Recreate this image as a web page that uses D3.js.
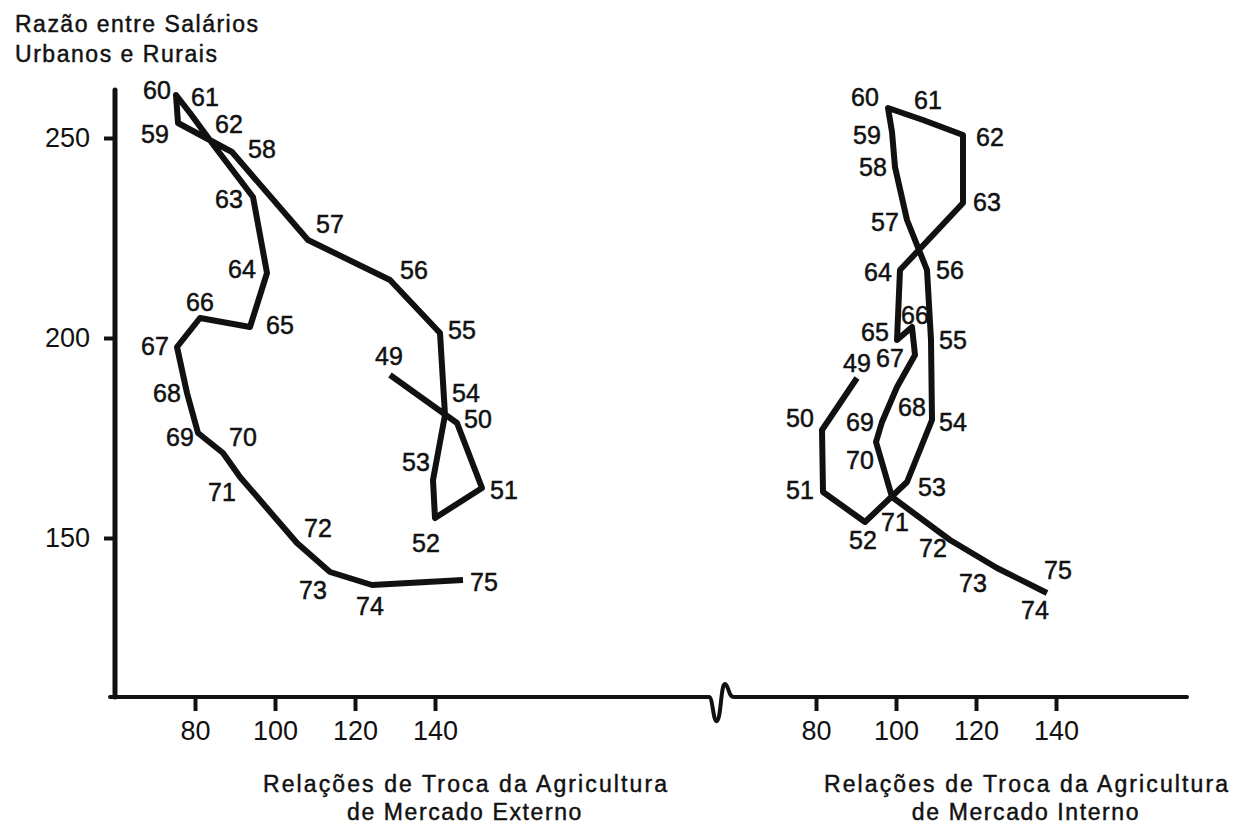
<!DOCTYPE html>
<meta charset="utf-8">
<html>
<head>
    <script type="text/javascript" src="https://d3js.org/d3.v7.min.js"></script>
    <style>
        body { margin: 0; background: #fff; }
        text { font-family: "Liberation Sans", Arial, sans-serif; fill: #111; }
        .year { font-size: 25px; stroke: #111; stroke-width: 0.5px; }
        .tick text { font-size: 27px; }
        .title { font-size: 23px; stroke: #111; stroke-width: 0.45px; }
    </style>
    <title>Razão entre Salários Urbanos e Rurais</title>
</head>
<body>
<svg id="chart" width="1234" height="825"></svg>
<script>
    // years (both panels use the same ones)
    var years = [49, 50, 51, 52, 53, 54, 55, 56, 57, 58, 59, 60, 61, 62,
                 63, 64, 65, 66, 67, 68, 69, 70, 71, 72, 73, 74, 75];

    // terms of trade, export agriculture (left panel)
    var extTrade = [128.75, 145.5, 151.75, 140, 139.5, 142.5, 141.25, 128.75, 108.25, 89.25,
                    75.75, 75.25, 78.75, 85, 94.5, 98, 93.75, 81.25, 75.5, 78,
                    80.75, 87, 91.25, 105.5, 113.75, 124.25, 147];
    var extWage = [190.75, 178.75, 162.5, 155, 164.5, 180.75, 201.25, 214.5, 224.5, 246.5,
                   253.75, 260.75, 256.25, 247.75, 235.25, 216.25, 202.75, 205, 197.75, 186.25,
                   176.25, 171.25, 165.25, 148.75, 141.5, 138.25, 139.5];

    // terms of trade, domestic agriculture (right panel)
    var intTrade = [90.25, 81.5, 81.75, 92.25, 102.75, 109, 108.75, 107.75, 102.75, 99.75,
                    99, 98, 106.75, 116.75, 116.75, 101, 100.25, 104, 104.75, 100.25,
                    96.5, 95, 99, 113.5, 125.25, 136.75, 137.75];
    var intWage = [190, 177, 161.5, 154, 164, 179.5, 199.5, 217, 229.5, 242.75,
                   251.5, 257.5, 254.5, 250.75, 233.75, 217, 199.5, 202.75, 195.75, 187.75,
                   179, 174, 160.25, 149.5, 142.5, 136.75, 136.25];

    var yTicks = [150, 200, 250];
    var xTicks = [80, 100, 120, 140];

    // where each year label sits relative to its point (pixels)
    var extDx = [-1, 21, 22, -9, -17, 21, 22, 24, 22, 30, -23, -19, 15, 14, -24, -25, 30, 0, -22, -20, -18, 20, -18, 21, -17, -2, 21];
    var extDy = [-19, -4, 2, 25, -18, -22, -3, -10, -16, -3, 11, -5, -16, -23, 2, -4, -2, -16, -1, 0, 4, -16, 15, -15, 18, 21, 2];
    var intDx = [0, -22, -23, -2, 25, 21, 22, 23, -22, -22, -25, -23, 5, 27, 24, -22, -22, 3, -25, 15, -22, -16, 3, -17, -24, -8, 11];
    var intDy = [-15, -12, -2, 18, 5, 2, 0, 0, 2, 0, 3, -11, -20, 2, -1, 2, -8, -12, 3, 20, 0, 18, 25, 8, 15, 19, -23];

    var svg = d3.select("#chart");

    var y = d3.scaleLinear().domain([150, 250]).range([538, 138]);
    var xL = d3.scaleLinear().domain([80, 140]).range([195, 435]);
    var xR = d3.scaleLinear().domain([80, 140]).range([816, 1056]);

    var axisX = 115, baseY = 697;

    // y title
    svg.append("text").attr("class", "title").attr("x", 15).attr("y", 32)
        .attr("textLength", 243).attr("lengthAdjust", "spacing")
        .text("Razão entre Salários");
    svg.append("text").attr("class", "title").attr("x", 15).attr("y", 62)
        .attr("textLength", 202).attr("lengthAdjust", "spacing")
        .text("Urbanos e Rurais");

    // y axis
    var yAxis = svg.append("g").attr("transform", "translate(" + axisX + ",0)")
        .call(d3.axisLeft(y).tickValues(yTicks).tickSize(11).tickPadding(14));
    yAxis.select(".domain").remove();
    yAxis.selectAll(".tick line").attr("stroke", "#111").attr("stroke-width", 4);
    svg.append("line").attr("x1", axisX).attr("x2", axisX).attr("y1", 90).attr("y2", baseY)
        .attr("stroke", "#111").attr("stroke-width", 5).attr("stroke-linecap", "round");

    // baseline with the break mark between the panels
    var p = d3.path();
    p.moveTo(110, baseY);
    p.lineTo(709, baseY);
    p.bezierCurveTo(713, baseY, 713, baseY + 26, 717, baseY + 24);
    p.bezierCurveTo(721, baseY + 22, 721, baseY - 14, 725, baseY - 13);
    p.bezierCurveTo(729, baseY - 12, 728, baseY, 734, baseY);
    p.lineTo(1187, baseY);
    svg.append("path").attr("d", p.toString()).attr("fill", "none")
        .attr("stroke", "#111").attr("stroke-width", 4).attr("stroke-linecap", "round");

    function bottomAxis(x) {
        var g = svg.append("g").attr("transform", "translate(0," + baseY + ")")
            .call(d3.axisBottom(x).tickValues(xTicks).tickSize(14).tickPadding(10));
        g.select(".domain").remove();
        g.selectAll(".tick line").attr("stroke", "#111").attr("stroke-width", 4);
    }
    bottomAxis(xL);
    bottomAxis(xR);

    // x titles
    function xTitle(cx, second) {
        svg.append("text").attr("class", "title").attr("x", cx).attr("y", 792)
            .attr("text-anchor", "middle").attr("textLength", 404).attr("lengthAdjust", "spacing")
            .text("Relações de Troca da Agricultura");
        svg.append("text").attr("class", "title").attr("x", cx).attr("y", 820)
            .attr("text-anchor", "middle").style("letter-spacing", "1.6px")
            .text(second);
    }
    xTitle(465, "de Mercado Externo");
    xTitle(1026, "de Mercado Interno");

    // the two paths
    function drawPanel(x, xs, ys, dx, dy) {
        var pts = years.map(function (d, i) { return { yr: d, x: xs[i], y: ys[i], dx: dx[i], dy: dy[i] }; });
        var line = d3.line().x(function (d) { return x(d.x); }).y(function (d) { return y(d.y); });
        svg.append("path").datum(pts).attr("d", line)
            .attr("fill", "none").attr("stroke", "#111").attr("stroke-width", 6)
            .attr("stroke-linejoin", "round").attr("stroke-linecap", "butt");
        svg.append("g").selectAll("text").data(pts).enter().append("text")
            .attr("class", "year")
            .attr("x", function (d) { return x(d.x) + d.dx; })
            .attr("y", function (d) { return y(d.y) + d.dy; })
            .attr("text-anchor", "middle").attr("dy", "0.36em")
            .text(function (d) { return d.yr; });
    }
    drawPanel(xL, extTrade, extWage, extDx, extDy);
    drawPanel(xR, intTrade, intWage, intDx, intDy);
</script>
</body>
</html>
